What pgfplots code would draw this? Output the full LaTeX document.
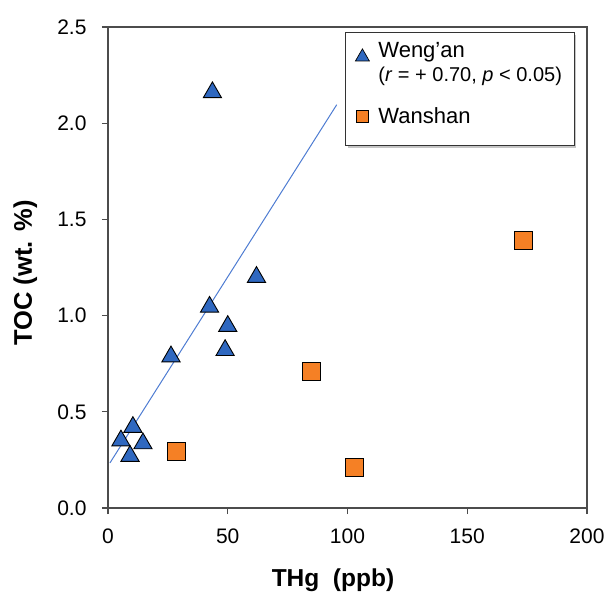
\documentclass[border=0pt]{standalone}
\usepackage{pgfplots}
\pgfplotsset{compat=1.18}
\usepackage{fontspec}
\setmainfont{Liberation Sans}
\usetikzlibrary{shadows}
\definecolor{wablue}{RGB}{47,104,192}
\definecolor{waorange}{RGB}{245,128,37}
\definecolor{lineblue}{RGB}{78,124,210}
\begin{document}
\begin{tikzpicture}
\useasboundingbox (-108pt,-84pt) rectangle (498pt,508pt);
\begin{axis}[
  scale only axis,
  width=479pt, height=481pt,
  xmin=0, xmax=200, ymin=0, ymax=2.5,
  xtick={0,50,100,150,200},
  ytick={0,0.5,1.0,1.5,2.0,2.5},
  yticklabel style={/pgf/number format/fixed, /pgf/number format/fixed zerofill, /pgf/number format/precision=1, xshift=-12pt},
  /pgf/number format/assume math mode=true,
  tick align=outside,
  xtick pos=bottom, ytick pos=left,
  major tick length=6pt,
  axis line style={black!70, line width=1.1pt},
  every tick/.style={black!70, line width=1.1pt},
  ticklabel style={font=\fontsize{21}{25}\selectfont, black},
  xticklabel style={yshift=-11pt},
  xlabel={\textbf{THg\ \ (ppb)}},
  ylabel={\textbf{TOC (wt. \%)}},
  xlabel style={font=\fontsize{24.5}{28}\selectfont, at={(axis description cs:0.4697,-0.1622)}, anchor=base},
  ylabel style={font=\fontsize{25.5}{28}\selectfont, at={(axis description cs:-0.1587,0.4886)}, anchor=base},
  legend style={at={(rel axis cs:0.4948,0.9896)}, anchor=north west,
    draw=black!80, line width=0.8pt, fill=white,
    drop shadow={shadow xshift=2.5pt, shadow yshift=-2.5pt, fill=black!45},
    inner xsep=0pt, inner ysep=0pt, row sep=0pt, column sep=0pt,
    nodes={inner sep=0pt, text depth={}},
    font=\fontsize{22}{26}\selectfont},
  legend cell align=left,
]
\addplot[no marks, color=lineblue, line width=1pt, forget plot] coordinates {(0.8,0.234) (95.5,2.096)};
\addplot[only marks, mark=triangle*, mark size=10.5pt,
  mark options={fill=wablue, draw=black, line width=0.9pt},
  legend image code/.code={\pgfpathmoveto{\pgfpointorigin}\pgfpathlineto{\pgfpoint{33pt}{0pt}}\pgfusepath{use as bounding box}\draw[mark=triangle*, mark size=8pt, mark options={fill=wablue, draw=black, line width=0.7pt}] plot coordinates {(17pt,-9.5pt)};}]
  coordinates {
  (43.6,2.16) (62.0,1.20) (42.4,1.045) (50.0,0.945) (48.9,0.82)
  (26.3,0.787) (10.4,0.42) (5.4,0.35) (14.6,0.335) (9.2,0.27)
  };
\addlegendentry{\rule[-5pt]{0pt}{30pt}Weng'an}
\addlegendimage{empty legend}
\addlegendentry{\fontsize{20}{24}\selectfont\rule[-20pt]{0pt}{39pt}(\textit{r} = + 0.70, \textit{p} < 0.05)\hspace*{12pt}}
\addplot[only marks, mark=square*, mark size=9pt,
  mark options={fill=waorange, draw=black, line width=0.9pt},
  legend image code/.code={\pgfpathmoveto{\pgfpointorigin}\pgfpathlineto{\pgfpoint{33pt}{0pt}}\pgfusepath{use as bounding box}\draw[mark=square*, mark size=6pt, mark options={fill=waorange, draw=black, line width=0.7pt}] plot coordinates {(17pt,7pt)};}]
  coordinates {
  (28.4,0.296) (84.8,0.712) (102.7,0.213) (173.3,1.388)
  };
\addlegendentry{\rule[-22pt]{0pt}{43.7pt}Wanshan}
\end{axis}
\end{tikzpicture}
\end{document}
